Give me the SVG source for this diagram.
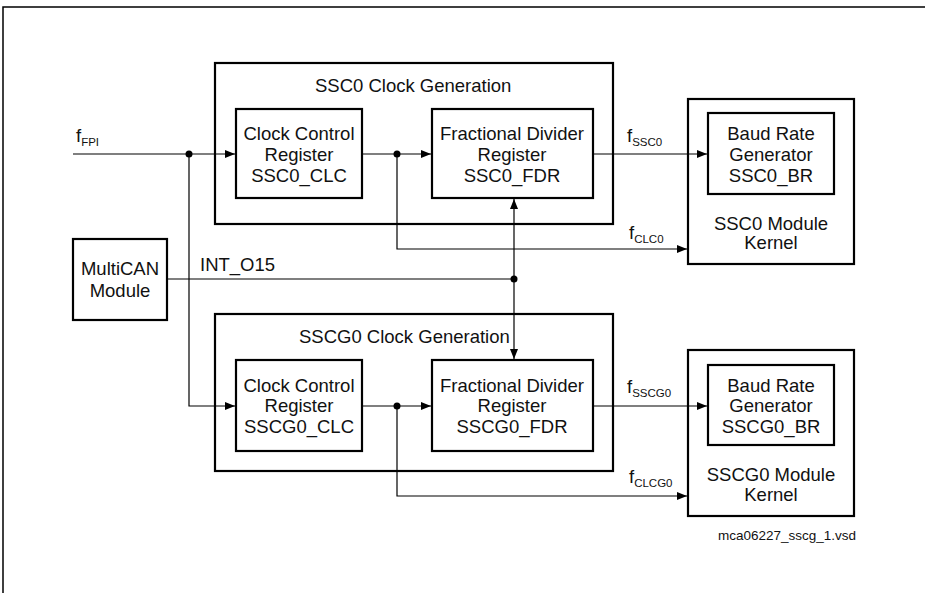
<svg xmlns="http://www.w3.org/2000/svg" width="925" height="593" viewBox="0 0 925 593">
<defs>
<style>
.box{fill:none;stroke:#000;stroke-width:2.2}
.ln{fill:none;stroke:#000;stroke-width:1.2}
text{font-family:"Liberation Sans",Arial,sans-serif;font-size:18.5px;fill:#111}
.c{text-anchor:middle}
.sub{font-size:11.5px}
.note{font-size:13.5px}
</style>
<marker id="ar" viewBox="0 0 10 10" refX="10" refY="5" markerWidth="10" markerHeight="10" markerUnits="userSpaceOnUse" orient="auto">
<path d="M0,1 L10,5 L0,9 Z" fill="#000"/>
</marker>
</defs>
<rect width="925" height="593" fill="#fff"/>
<path d="M3,593 V7 H925" fill="none" stroke="#000" stroke-width="1.5"/>

<g id="ssc0_clkgen">
<rect class="box" x="215" y="63" width="398" height="161"/>
<text x="315" y="92">SSC0 Clock Generation</text>
</g>
<g id="ssc0_clc">
<rect class="box" x="236" y="109" width="126" height="89"/>
<text class="c" x="299" y="140">Clock Control</text>
<text class="c" x="299" y="161">Register</text>
<text class="c" x="299" y="182">SSC0_CLC</text>
</g>
<g id="ssc0_fdr">
<rect class="box" x="432" y="109" width="161" height="89"/>
<text class="c" x="512" y="140">Fractional Divider</text>
<text class="c" x="512" y="161">Register</text>
<text class="c" x="512" y="182">SSC0_FDR</text>
</g>
<g id="ssc0_kernel">
<rect class="box" x="688" y="99" width="166" height="165"/>
<text class="c" x="771" y="230">SSC0 Module</text>
<text class="c" x="771" y="249">Kernel</text>
</g>
<g id="ssc0_br">
<rect class="box" x="708" y="113" width="126" height="81"/>
<text class="c" x="771" y="140">Baud Rate</text>
<text class="c" x="771" y="161">Generator</text>
<text class="c" x="771" y="182">SSC0_BR</text>
</g>
<g id="multican">
<rect class="box" x="73" y="239" width="94" height="81"/>
<text class="c" x="120" y="275">MultiCAN</text>
<text class="c" x="120" y="297">Module</text>
</g>

<g id="sscg0_clkgen">
<rect class="box" x="215" y="314" width="398" height="157"/>
<text x="299" y="343">SSCG0 Clock Generation</text>
</g>
<g id="sscg0_clc">
<rect class="box" x="236" y="360" width="126" height="91"/>
<text class="c" x="299" y="392">Clock Control</text>
<text class="c" x="299" y="412">Register</text>
<text class="c" x="299" y="433">SSCG0_CLC</text>
</g>
<g id="sscg0_fdr">
<rect class="box" x="432" y="360" width="161" height="91"/>
<text class="c" x="512" y="392">Fractional Divider</text>
<text class="c" x="512" y="412">Register</text>
<text class="c" x="512" y="433">SSCG0_FDR</text>
</g>
<g id="sscg0_kernel">
<rect class="box" x="688" y="350" width="166" height="166"/>
<text class="c" x="771" y="481">SSCG0 Module</text>
<text class="c" x="771" y="501">Kernel</text>
</g>
<g id="sscg0_br">
<rect class="box" x="708" y="365" width="126" height="80"/>
<text class="c" x="771" y="392">Baud Rate</text>
<text class="c" x="771" y="412">Generator</text>
<text class="c" x="771" y="433">SSCG0_BR</text>
</g>

<g id="connectors">
<path class="ln" d="M73,154 H235" marker-end="url(#ar)"/>
<path class="ln" d="M189,154 V406 H235" marker-end="url(#ar)"/>
<path class="ln" d="M362,154 H431" marker-end="url(#ar)"/>
<path class="ln" d="M397,154 V249 H687" marker-end="url(#ar)"/>
<path class="ln" d="M593,154 H707" marker-end="url(#ar)"/>
<path class="ln" d="M167,279 H514"/>
<path class="ln" d="M514,279 V199" marker-end="url(#ar)"/>
<path class="ln" d="M514,279 V359" marker-end="url(#ar)"/>
<path class="ln" d="M362,406 H431" marker-end="url(#ar)"/>
<path class="ln" d="M397,406 V496 H687" marker-end="url(#ar)"/>
<path class="ln" d="M593,406 H707" marker-end="url(#ar)"/>
<circle cx="189" cy="154" r="3.5"/>
<circle cx="397" cy="154" r="3.5"/>
<circle cx="514" cy="279" r="3.5"/>
<circle cx="397" cy="406" r="3.5"/>
<text x="76" y="142">f<tspan class="sub" dy="4">FPI</tspan></text>
<text x="627" y="142">f<tspan class="sub" dy="4">SSC0</tspan></text>
<text x="629" y="239">f<tspan class="sub" dy="4">CLC0</tspan></text>
<text x="200" y="271">INT_O15</text>
<text x="627" y="393">f<tspan class="sub" dy="4">SSCG0</tspan></text>
<text x="629" y="483">f<tspan class="sub" dy="4">CLCG0</tspan></text>
</g>
<text class="note" x="718" y="540">mca06227_sscg_1.vsd</text>
</svg>
